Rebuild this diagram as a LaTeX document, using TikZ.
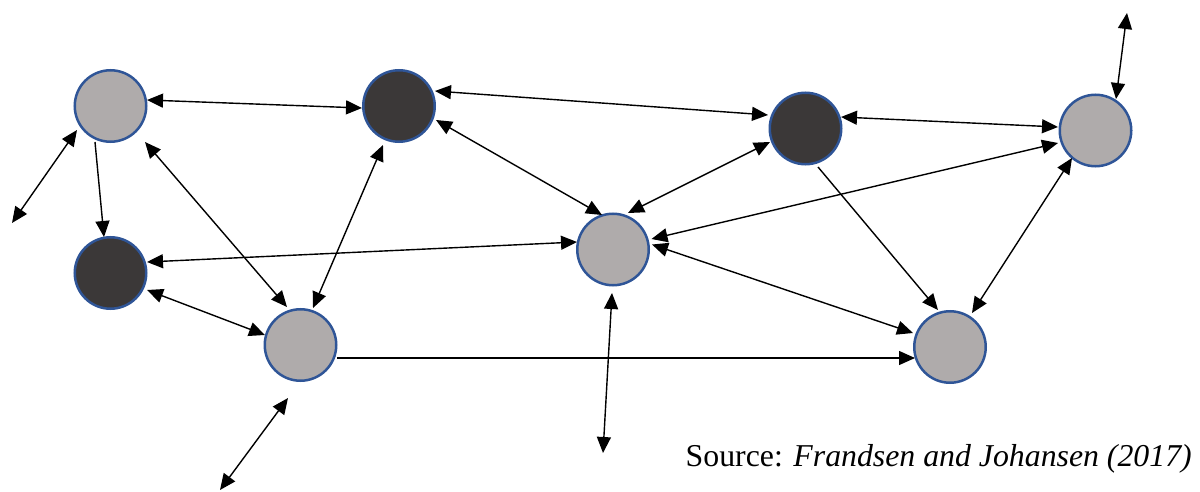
\documentclass[tikz,border=0pt]{standalone}
\usepackage{fontspec}
\setmainfont{Liberation Serif}
\usetikzlibrary{arrows.meta,calc}
\definecolor{nodegrey}{RGB}{175,171,171}
\definecolor{nodedark}{RGB}{59,56,56}
\definecolor{rimblue}{RGB}{47,85,151}
\tikzset{
  actor/.style={circle, draw=rimblue, line width=2.5pt, minimum size=71.5pt, inner sep=0pt},
  lightactor/.style={actor, fill=nodegrey},
  darkactor/.style={actor, fill=nodedark},
  tip/.tip={Triangle[length=16pt,width=14pt]},
  link/.style={line width=1.4pt, black},
  bi/.style={link, tip-tip},
  one/.style={link, -tip}
}
\begin{document}
\begin{tikzpicture}[x=1pt,y=-1pt]
\useasboundingbox (0,0) rectangle (1200,492);

% actors
\node[lightactor] (A) at (110.5,106) {};
\node[darkactor]  (B) at (110.5,273) {};
\node[darkactor]  (C) at (399,106) {};
\node[lightactor] (D) at (300.5,345) {};
\node[lightactor] (E) at (613,249.5) {};
\node[darkactor]  (F) at (805.5,128.5) {};
\node[lightactor] (G) at (1095.5,130.5) {};
\node[lightactor] (H) at (950,347) {};

% open ends of the outward links
\coordinate (outA) at (12,223);
\coordinate (outD) at (220,490);
\coordinate (outE) at (603,453);
\coordinate (outG) at (1127,13);

% links between actors
\draw[bi]  ($(A)+(36.5,-6)$)   -- ($(C)+(-37,2)$);
\draw[bi]  ($(C)+(36,-15)$)    -- ($(F)+(-37.5,-13.5)$);
\draw[bi]  ($(F)+(35.5,-11.5)$) -- ($(G)+(-37.5,-3.5)$);
\draw[one] ($(A)+(-15.5,36)$)  -- ($(B)+(-6.5,-36)$);
\draw[bi]  ($(A)+(34.5,36)$)   -- ($(D)+(-13.5,-38)$);
\draw[bi]  ($(B)+(36.5,-11)$)  -- ($(E)+(-36,-7.5)$);
\draw[bi]  ($(B)+(36.5,17)$)   -- ($(D)+(-35.5,-10)$);
\draw[bi]  ($(C)+(-16,39)$)    -- ($(D)+(12.5,-37)$);
\draw[bi]  ($(C)+(37,14)$)     -- ($(E)+(-11,-34.5)$);
\draw[bi]  ($(F)+(-35.5,13.5)$) -- ($(E)+(15,-36.5)$);
\draw[bi]  ($(G)+(-37.5,12.5)$) -- ($(E)+(38.5,-10.5)$);
\draw[bi]  ($(E)+(39,-5)$)     -- ($(H)+(-37,-14)$);
\draw[one] ($(F)+(12.5,38.5)$) -- ($(H)+(-12,-37)$);
\draw[bi]  ($(G)+(-23.5,27.5)$) -- ($(H)+(22,-34)$);
\draw[one] ($(D)+(36.5,13)$)   -- ($(H)+(-35,11)$);

% outward links
\draw[bi] (outA) -- ($(A)+(-33.5,24)$);
\draw[bi] (outD) -- ($(D)+(-12.5,53)$);
\draw[bi] ($(E)+(-1,43.5)$) -- (outE);
\draw[bi] ($(G)+(20.5,-31.5)$) -- (outG);

% source line
\node[anchor=base east, inner sep=0pt, font=\fontsize{31.8}{36}\selectfont] (src) at (1192,466)
  {Source: \textit{Frandsen and Johansen (2017)}};
\end{tikzpicture}
\end{document}
